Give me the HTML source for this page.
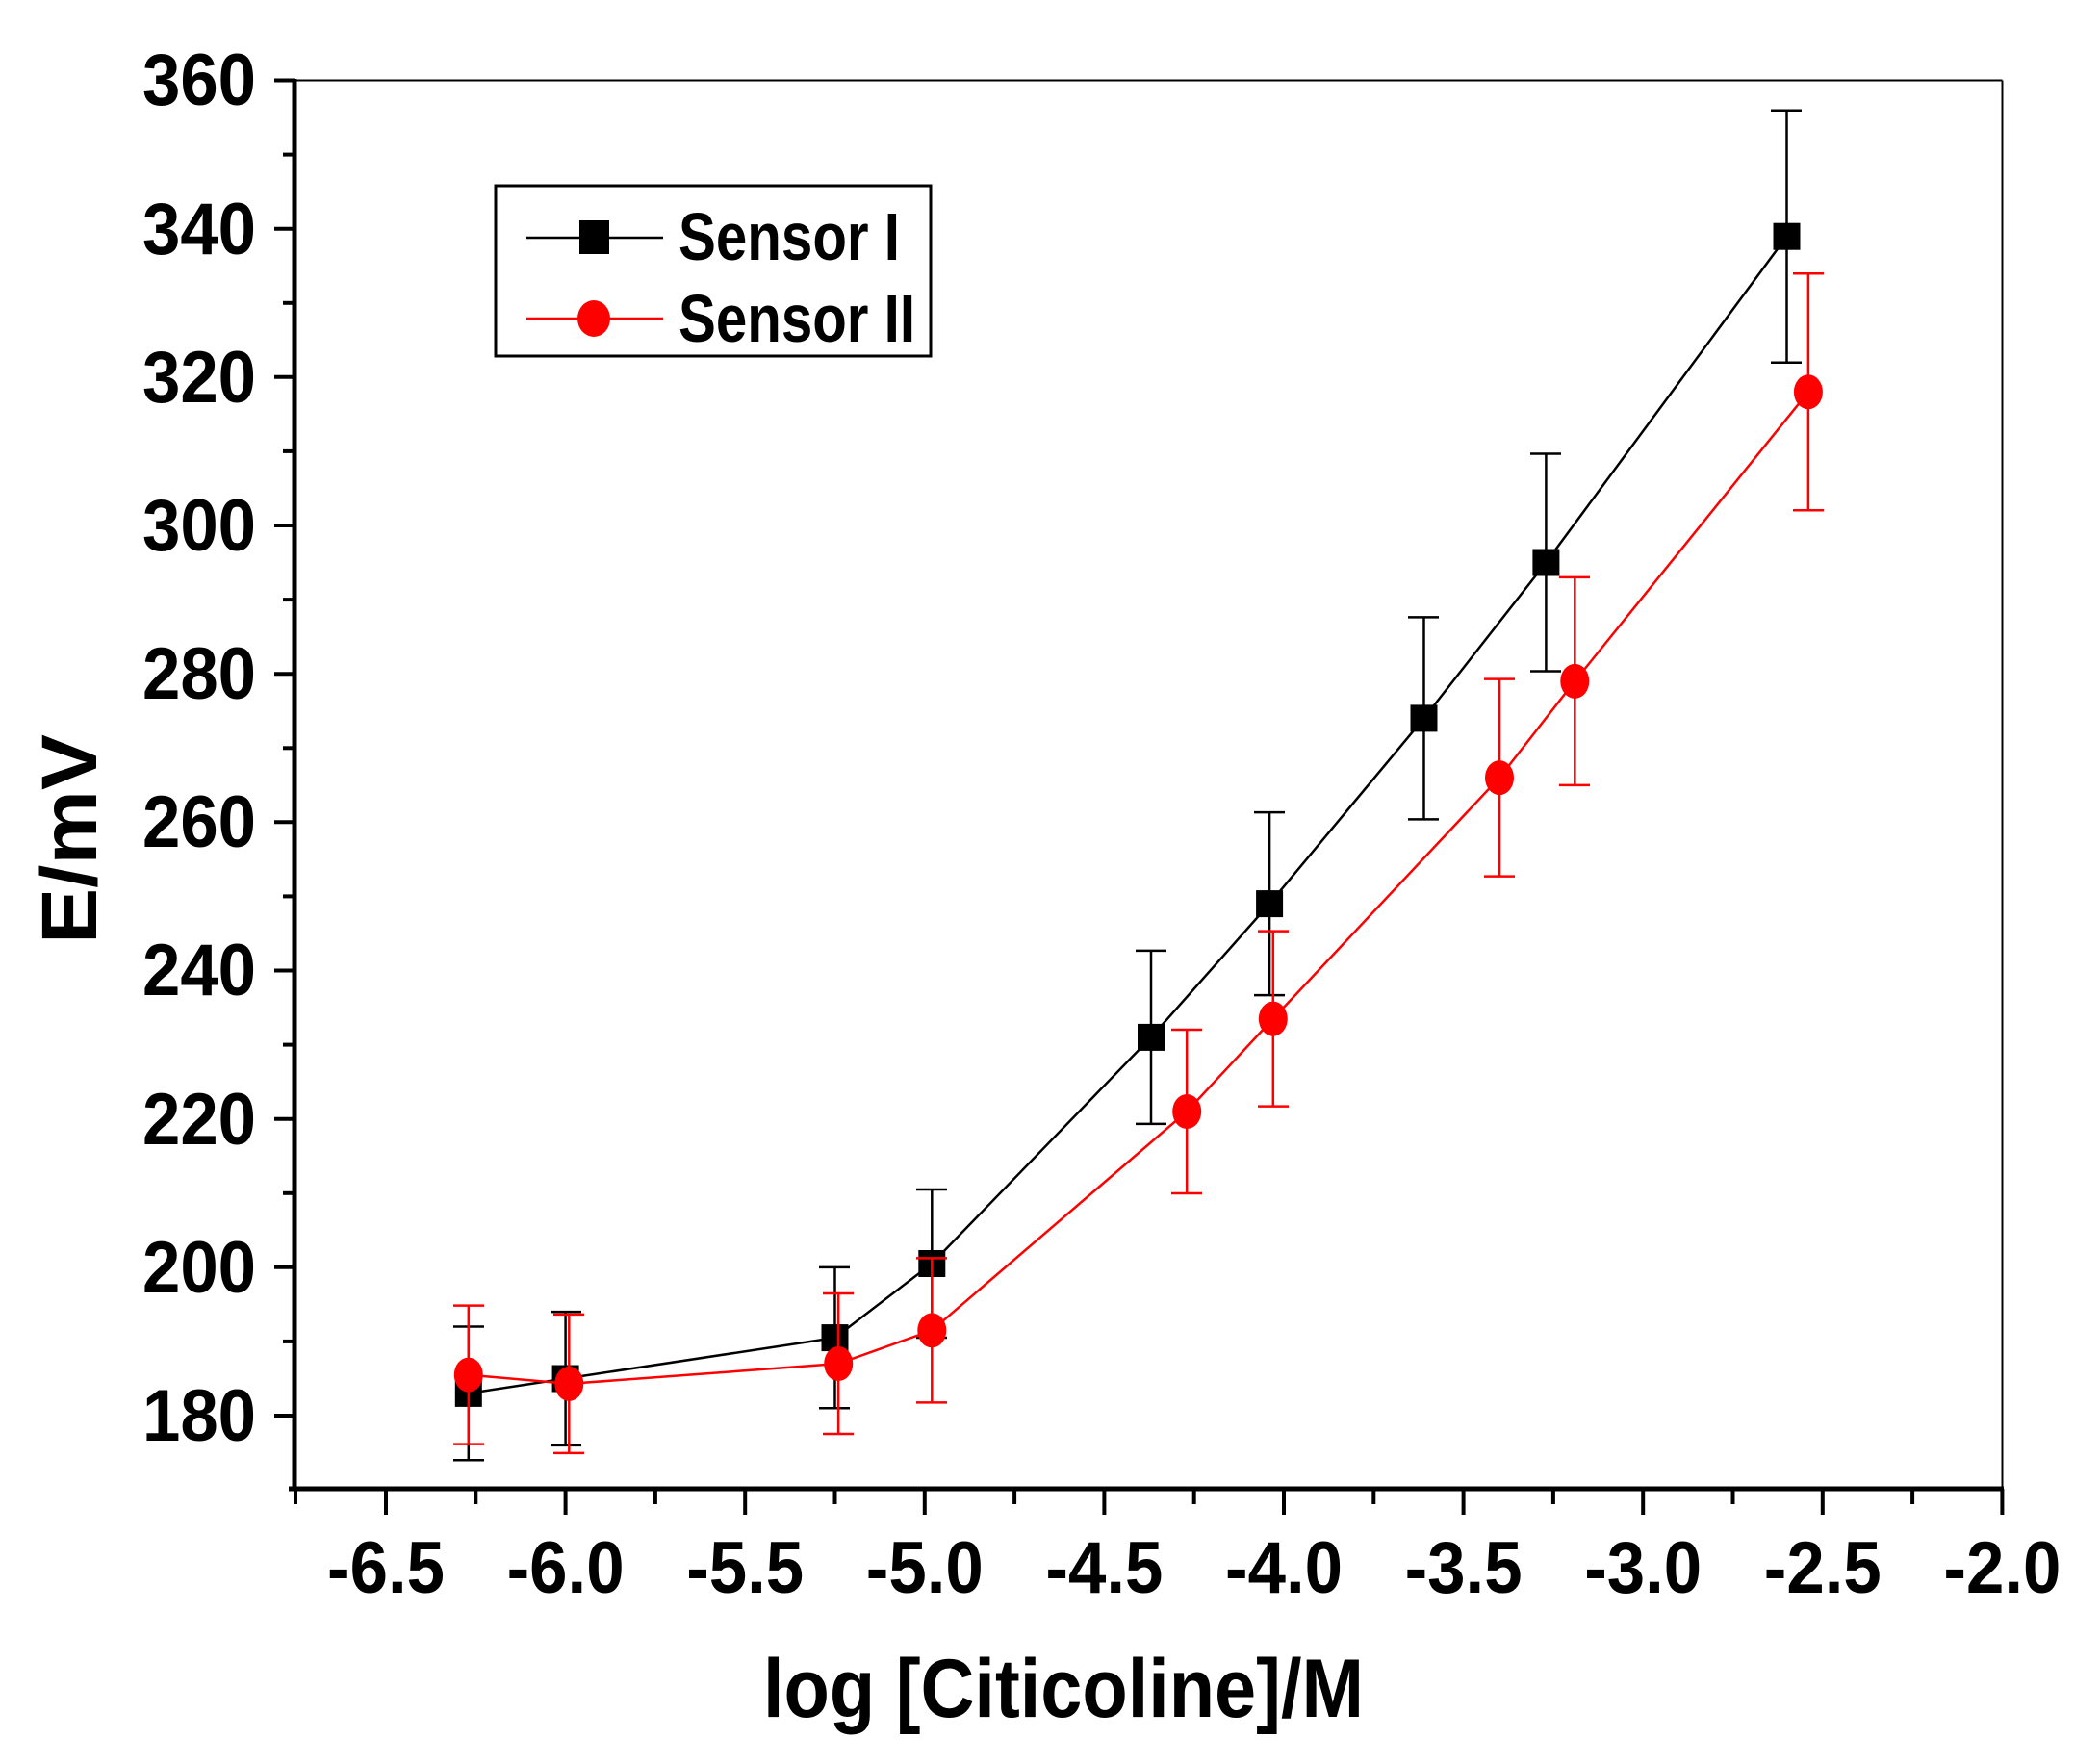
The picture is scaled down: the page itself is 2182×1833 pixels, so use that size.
<!DOCTYPE html>
<html><head><meta charset="utf-8"><style>html,body{margin:0;padding:0;background:#fff}svg{display:block}</style></head>
<body>
<svg width="2182" height="1833" viewBox="0 0 2182 1833" xmlns="http://www.w3.org/2000/svg" font-family="Liberation Sans, Arial, sans-serif" font-weight="bold">
<rect width="2182" height="1833" fill="#fff"/>
<line x1="306" y1="83.5" x2="2080.5" y2="83.5" stroke="#000" stroke-width="2"/>
<line x1="2080.5" y1="83.5" x2="2080.5" y2="1547" stroke="#000" stroke-width="2"/>
<line x1="306" y1="82" x2="306" y2="1549" stroke="#000" stroke-width="5"/>
<line x1="300" y1="1547" x2="2082" y2="1547" stroke="#000" stroke-width="5"/>
<g stroke="#000" stroke-width="4">
<line x1="285" y1="1471" x2="306" y2="1471"/><line x1="285" y1="1316.8" x2="306" y2="1316.8"/><line x1="285" y1="1162.7" x2="306" y2="1162.7"/><line x1="285" y1="1008.5" x2="306" y2="1008.5"/><line x1="285" y1="854.3" x2="306" y2="854.3"/><line x1="285" y1="700.2" x2="306" y2="700.2"/><line x1="285" y1="546" x2="306" y2="546"/><line x1="285" y1="391.8" x2="306" y2="391.8"/><line x1="285" y1="237.7" x2="306" y2="237.7"/><line x1="285" y1="83.5" x2="306" y2="83.5"/>
<line x1="294" y1="1393.9" x2="306" y2="1393.9"/><line x1="294" y1="1239.8" x2="306" y2="1239.8"/><line x1="294" y1="1085.6" x2="306" y2="1085.6"/><line x1="294" y1="931.4" x2="306" y2="931.4"/><line x1="294" y1="777.3" x2="306" y2="777.3"/><line x1="294" y1="623.1" x2="306" y2="623.1"/><line x1="294" y1="468.9" x2="306" y2="468.9"/><line x1="294" y1="314.8" x2="306" y2="314.8"/><line x1="294" y1="160.6" x2="306" y2="160.6"/>
<line x1="401" y1="1547" x2="401" y2="1574"/><line x1="587.6" y1="1547" x2="587.6" y2="1574"/><line x1="774.2" y1="1547" x2="774.2" y2="1574"/><line x1="960.8" y1="1547" x2="960.8" y2="1574"/><line x1="1147.4" y1="1547" x2="1147.4" y2="1574"/><line x1="1334" y1="1547" x2="1334" y2="1574"/><line x1="1520.6" y1="1547" x2="1520.6" y2="1574"/><line x1="1707.2" y1="1547" x2="1707.2" y2="1574"/><line x1="1893.8" y1="1547" x2="1893.8" y2="1574"/><line x1="2080.4" y1="1547" x2="2080.4" y2="1574"/>
<line x1="307" y1="1547" x2="307" y2="1563"/><line x1="494.3" y1="1547" x2="494.3" y2="1563"/><line x1="680.9" y1="1547" x2="680.9" y2="1563"/><line x1="867.5" y1="1547" x2="867.5" y2="1563"/><line x1="1054.1" y1="1547" x2="1054.1" y2="1563"/><line x1="1240.7" y1="1547" x2="1240.7" y2="1563"/><line x1="1427.3" y1="1547" x2="1427.3" y2="1563"/><line x1="1613.9" y1="1547" x2="1613.9" y2="1563"/><line x1="1800.5" y1="1547" x2="1800.5" y2="1563"/><line x1="1987.1" y1="1547" x2="1987.1" y2="1563"/>
</g>
<g font-size="76" fill="#000">
<text x="148" y="1497" textLength="118" lengthAdjust="spacingAndGlyphs">180</text><text x="148" y="1343" textLength="118" lengthAdjust="spacingAndGlyphs">200</text><text x="148" y="1189" textLength="118" lengthAdjust="spacingAndGlyphs">220</text><text x="148" y="1034" textLength="118" lengthAdjust="spacingAndGlyphs">240</text><text x="148" y="880" textLength="118" lengthAdjust="spacingAndGlyphs">260</text><text x="148" y="726" textLength="118" lengthAdjust="spacingAndGlyphs">280</text><text x="148" y="572" textLength="118" lengthAdjust="spacingAndGlyphs">300</text><text x="148" y="418" textLength="118" lengthAdjust="spacingAndGlyphs">320</text><text x="148" y="264" textLength="118" lengthAdjust="spacingAndGlyphs">340</text><text x="148" y="109" textLength="118" lengthAdjust="spacingAndGlyphs">360</text>
</g>
<g font-size="76" fill="#000">
<text x="340" y="1655" textLength="122" lengthAdjust="spacingAndGlyphs">-6.5</text><text x="526.6" y="1655" textLength="122" lengthAdjust="spacingAndGlyphs">-6.0</text><text x="713.2" y="1655" textLength="122" lengthAdjust="spacingAndGlyphs">-5.5</text><text x="899.8" y="1655" textLength="122" lengthAdjust="spacingAndGlyphs">-5.0</text><text x="1086.4" y="1655" textLength="122" lengthAdjust="spacingAndGlyphs">-4.5</text><text x="1273" y="1655" textLength="122" lengthAdjust="spacingAndGlyphs">-4.0</text><text x="1459.6" y="1655" textLength="122" lengthAdjust="spacingAndGlyphs">-3.5</text><text x="1646.2" y="1655" textLength="122" lengthAdjust="spacingAndGlyphs">-3.0</text><text x="1832.8" y="1655" textLength="122" lengthAdjust="spacingAndGlyphs">-2.5</text><text x="2019.4" y="1655" textLength="122" lengthAdjust="spacingAndGlyphs">-2.0</text>
</g>
<text x="793" y="1784" font-size="86" textLength="624" lengthAdjust="spacingAndGlyphs">log [Citicoline]/M</text>
<text transform="translate(100,981) rotate(-90)" font-size="82" textLength="218" lengthAdjust="spacingAndGlyphs">E/mV</text>
<polyline fill="none" stroke="#000" stroke-width="2.5" points="486.8,1447.9 587.6,1432.5 867.5,1390.1 968.3,1313 1196,1077.9 1319.1,939.1 1479.5,746.4 1606.4,584.5 1856.5,245.7"/>
<g stroke="#000" stroke-width="2.5" fill="none">
<path d="M486.8,1378.5V1517.3M471,1378.5h32M471,1517.3h32"/>
<path d="M587.6,1363.1V1501.9M572,1363.1h32M572,1501.9h32"/>
<path d="M867.5,1316.9V1463.3M851,1316.9h32M851,1463.3h32"/>
<path d="M968.3,1236V1390M952,1236h32M952,1390h32"/>
<path d="M1196,987.9V1167.9M1180,987.9h32M1180,1167.9h32"/>
<path d="M1319.1,844.1V1034.1M1303,844.1h32M1303,1034.1h32"/>
<path d="M1479.5,641.4V851.4M1463,641.4h32M1463,851.4h32"/>
<path d="M1606.4,471.5V697.5M1590,471.5h32M1590,697.5h32"/>
<path d="M1856.5,114.7V376.7M1840,114.7h32M1840,376.7h32"/>
</g>
<g fill="#000">
<rect x="472.8" y="1433.9" width="28" height="28"/><rect x="573.6" y="1418.5" width="28" height="28"/><rect x="853.5" y="1376.1" width="28" height="28"/><rect x="954.3" y="1299" width="28" height="28"/><rect x="1182" y="1063.9" width="28" height="28"/><rect x="1305.1" y="925.1" width="28" height="28"/><rect x="1465.5" y="732.4" width="28" height="28"/><rect x="1592.4" y="570.5" width="28" height="28"/><rect x="1842.5" y="231.7" width="28" height="28"/>
</g>
<polyline fill="none" stroke="#f00" stroke-width="2.5" points="486.8,1428.6 591.3,1437.9 871.2,1417 968.3,1382.4 1233.2,1155 1322.8,1058.6 1558,808.1 1636.3,707.9 1878.9,407.3"/>
<g stroke="#f00" stroke-width="2.5" fill="none">
<path d="M486.8,1356.6V1500.6M471,1356.6h32M471,1500.6h32"/>
<path d="M591.3,1365.9V1509.9M575,1365.9h32M575,1509.9h32"/>
<path d="M871.2,1344V1490M855,1344h32M855,1490h32"/>
<path d="M968.3,1307.4V1457.4M952,1307.4h32M952,1457.4h32"/>
<path d="M1233.2,1070V1240M1217,1070h32M1217,1240h32"/>
<path d="M1322.8,967.6V1149.6M1307,967.6h32M1307,1149.6h32"/>
<path d="M1558,705.6V910.6M1542,705.6h32M1542,910.6h32"/>
<path d="M1636.3,599.9V815.9M1620,599.9h32M1620,815.9h32"/>
<path d="M1878.9,284.3V530.3M1863,284.3h32M1863,530.3h32"/>
</g>
<g fill="#f00">
<ellipse cx="486.8" cy="1428.6" rx="15" ry="18"/><ellipse cx="591.3" cy="1437.9" rx="15" ry="18"/><ellipse cx="871.2" cy="1417" rx="15" ry="18"/><ellipse cx="968.3" cy="1382.4" rx="15" ry="18"/><ellipse cx="1233.2" cy="1155" rx="15" ry="18"/><ellipse cx="1322.8" cy="1058.6" rx="15" ry="18"/><ellipse cx="1558" cy="808.1" rx="15" ry="18"/><ellipse cx="1636.3" cy="707.9" rx="15" ry="18"/><ellipse cx="1878.9" cy="407.3" rx="15" ry="18"/>
</g>
<rect x="515" y="193" width="452" height="177" fill="#fff" stroke="#000" stroke-width="3"/>
<line x1="547" y1="247" x2="689" y2="247" stroke="#000" stroke-width="2.5"/>
<rect x="602" y="229" width="31" height="35" fill="#000"/>
<line x1="547" y1="331" x2="689" y2="331" stroke="#f00" stroke-width="2.5"/>
<ellipse cx="617" cy="331" rx="17" ry="19" fill="#f00"/>
<text x="705" y="270" font-size="70" textLength="230" lengthAdjust="spacingAndGlyphs">Sensor I</text>
<text x="705" y="355" font-size="70" textLength="246" lengthAdjust="spacingAndGlyphs">Sensor II</text>
</svg>
</body></html>
